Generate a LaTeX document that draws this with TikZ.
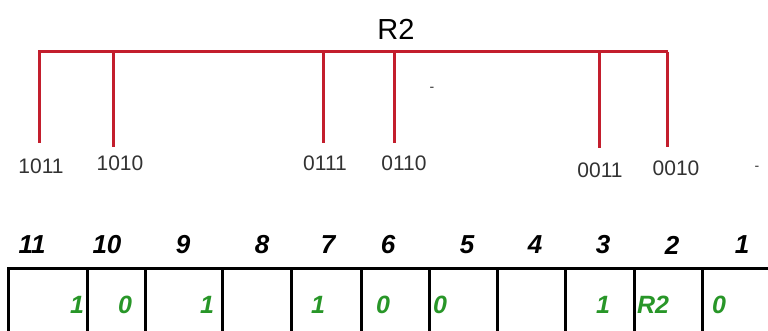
\documentclass[tikz,border=0pt]{standalone}
\usepackage{fontspec}
\setmainfont{Liberation Sans}
\definecolor{busred}{RGB}{195,30,45}
\definecolor{labgray}{RGB}{50,50,50}
\definecolor{valgreen}{RGB}{40,150,40}
\tikzset{
  busline/.style={draw=busred,line width=3pt},
  addr/.style={inner sep=0pt,text=labgray,font=\fontsize{21}{21}\selectfont},
  titletext/.style={inner sep=0pt,text=black,font=\fontsize{29}{29}\selectfont},
  posnum/.style={inner sep=0pt,text=black,font=\fontsize{26}{26}\selectfont\bfseries\itshape},
  bitval/.style={inner sep=0pt,text=valgreen,font=\fontsize{25}{25}\selectfont\bfseries\itshape},
  gridline/.style={draw=black,line width=3pt},
  speck/.style={inner sep=0pt,text=labgray,font=\fontsize{14}{14}\selectfont}
}
\begin{document}
\begin{tikzpicture}[x=1pt,y=-1pt]
\useasboundingbox (0,0) rectangle (768,331);
\fill[white] (0,0) rectangle (768,331);
% title
\node[titletext] (title) at (396,29) {R2};
% bus
\coordinate (bL) at (38,52);
\coordinate (bR) at (668,52);
\draw[busline] (bL) -- (bR);
\coordinate (t1) at (39,52);  \coordinate (e1) at (39,143);
\coordinate (t2) at (113,52); \coordinate (e2) at (113,147);
\coordinate (t3) at (323,52); \coordinate (e3) at (323,143);
\coordinate (t4) at (394,52); \coordinate (e4) at (394,143);
\coordinate (t5) at (599,52); \coordinate (e5) at (599,148);
\coordinate (t6) at (667,52); \coordinate (e6) at (667,147);
\foreach \i in {1,...,6} \draw[busline] (t\i) -- (e\i);
% address labels
\node[addr] (a1) at (41,166) {1011};
\node[addr] (a2) at (120,163) {1010};
\node[addr] (a3) at (325,163) {0111};
\node[addr] (a4) at (404,163) {0110};
\node[addr] (a5) at (600,170) {0011};
\node[addr] (a6) at (676,168) {0010};
\node[speck] (s1) at (432,89) {-};
\node[speck] (s2) at (757,168) {-};
% position numbers
\node[posnum] (p11) at (32,245) {11};
\node[posnum] (p10) at (107,245) {10};
\node[posnum] (p9) at (183,245) {9};
\node[posnum] (p8) at (262,245) {8};
\node[posnum] (p7) at (328,245) {7};
\node[posnum] (p6) at (388,245) {6};
\node[posnum] (p5) at (467,245) {5};
\node[posnum] (p4) at (535,245) {4};
\node[posnum] (p3) at (603,245) {3};
\node[posnum] (p2) at (672,245) {2};
\node[posnum] (p1) at (742,245) {1};
% table
\draw[gridline] (8,331) -- (8,268) -- (768,268);
\foreach \x in {87,145,222,291,361,429,497,565,634,702}
  \draw[gridline] (\x,268) -- (\x,331);
% values
\node[bitval] (v11) at (77,305) {1};
\node[bitval] (v10) at (125,305) {0};
\node[bitval] (v9) at (207,305) {1};
\node[bitval] (v7) at (318,305) {1};
\node[bitval] (v6) at (383,305) {0};
\node[bitval] (v5) at (440,305) {0};
\node[bitval] (v3) at (603,305) {1};
\node[bitval] (v2) at (653,305) {R2};
\node[bitval] (v1) at (719,305) {0};
\end{tikzpicture}
\end{document}
